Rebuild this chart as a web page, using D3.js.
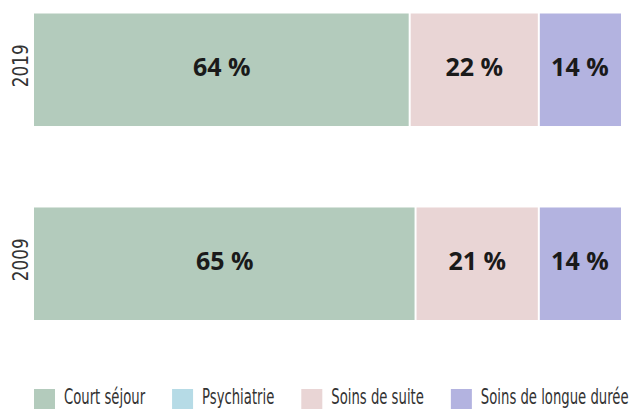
<!DOCTYPE html>
<html lang="fr">
<head>
<meta charset="UTF-8">
<title>Répartition</title>
<script src="https://d3js.org/d3.v7.min.js"></script>
<style>
  body { margin: 0; background: #fff; }
  svg { display: block; }
  .cond { font-family: "Liberation Sans Narrow", "DejaVu Sans Condensed", sans-serif; font-weight: 300; fill: #333; }
  .val { font-family: "Open Sans", "Noto Sans", sans-serif; font-weight: 700; font-size: 25px; fill: #1a1a1a; }
</style>
</head>
<body>
<svg width="633" height="409"></svg>
<script>
const years = ["2019", "2009"];
const categories = ["Court séjour", "Psychiatrie", "Soins de suite", "Soins de longue durée"];
const courtSejour = [64, 65];
const psychiatrie = [0, 0];
const soinsSuite = [22, 21];
const soinsLongue = [14, 14];
const colors = ["#b3cbbc", "#b6dbe6", "#e9d5d5", "#b3b3e0"];

const series = [courtSejour, psychiatrie, soinsSuite, soinsLongue];
const rows = years.map((y, i) => {
  const r = { year: y };
  categories.forEach((c, j) => r[c] = series[j][i]);
  return r;
});

const svg = d3.select("svg");

const x = d3.scaleLinear().domain([0, 100]).range([34, 621]);
const y = d3.scaleBand().domain(years).range([13.5, 320]).paddingInner(0.42);
const color = d3.scaleOrdinal().domain(categories).range(colors);

const stack = d3.stack().keys(categories)(rows);

const layer = svg.selectAll("g.layer").data(stack).join("g")
  .attr("class", "layer")
  .attr("fill", d => color(d.key));

layer.selectAll("rect").data(d => d.filter(p => p[1] - p[0] > 0)).join("rect")
  .attr("x", d => x(d[0]) + (d[0] > 0 ? 1 : 0))
  .attr("width", d => x(d[1]) - x(d[0]) - (d[0] > 0 ? 1 : 0) - (d[1] < 100 ? 1 : 0))
  .attr("y", d => y(d.data.year))
  .attr("height", y.bandwidth());

layer.selectAll("text").data(d => d.filter(p => p[1] - p[0] > 0)).join("text")
  .attr("class", "val")
  .attr("x", d => (x(d[0]) + x(d[1])) / 2)
  .attr("y", d => y(d.data.year) + y.bandwidth() / 2 + 6)
  .attr("text-anchor", "middle")
  .text(d => (d[1] - d[0]) + "\u00a0%");

// year labels
svg.selectAll("text.year").data(years).join("text")
  .attr("class", "cond year")
  .attr("font-size", 22)
  .attr("text-anchor", "middle")
  .attr("transform", d => `translate(28,${y(d) + y.bandwidth() / 2 - 4}) rotate(-90) scale(0.85,1)`)
  .text(d => d);

// legend
const legend = svg.append("g");
const sx = 0.7;
let lx = 34;
categories.forEach(c => {
  legend.append("rect")
    .attr("x", lx).attr("y", 389).attr("width", 21).attr("height", 20)
    .attr("fill", color(c));
  const t = legend.append("text")
    .attr("class", "cond")
    .attr("font-size", 21)
    .attr("transform", `translate(${lx + 30},404) scale(${sx},1)`)
    .text(c);
  const w = t.node().getComputedTextLength() * sx;
  lx += 30 + w + 27;
});
</script>
</body>
</html>
